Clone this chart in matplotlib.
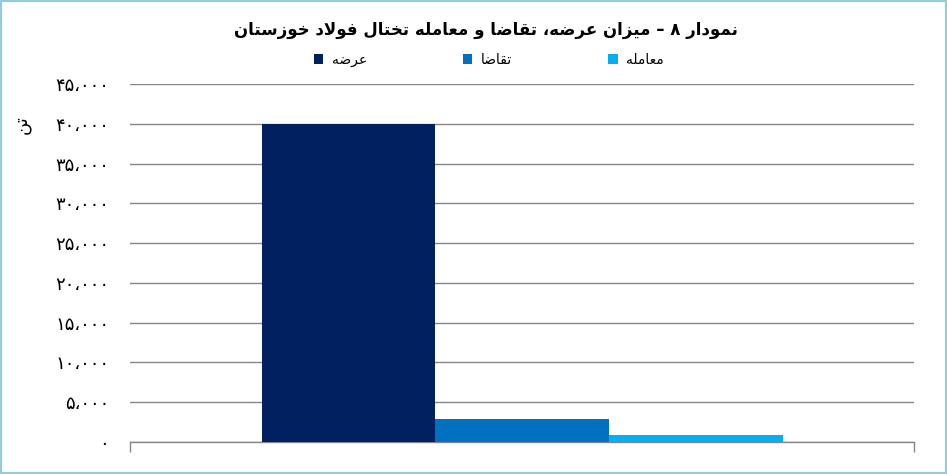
import re

import matplotlib
matplotlib.use("Agg")
from matplotlib import pyplot as plt
from matplotlib.patches import Rectangle
from matplotlib.ticker import FuncFormatter, MultipleLocator

# data
TITLE = "نمودار ۸ – میزان عرضه، تقاضا و معامله تختال فولاد خوزستان"
Y_LABEL = "تن"
SERIES = ["عرضه", "تقاضا", "معامله"]
VALUES = [40000, 2900, 900]
COLORS = ["#002060", "#0070C0", "#00B0F0"]
Y_MAX = 45000
Y_STEP = 5000

BORDER_COLOR = "#93CDDD"
GRID_COLOR = "#868686"

# ---------------------------------------------------------------------------
# minimal Persian shaping (matplotlib does no Arabic joining / bidi)
# forms: isolated, final, initial, medial
FORMS = {
    "ا": ("\uFE8D", "\uFE8E", None, None),
    "ب": ("\uFE8F", "\uFE90", "\uFE91", "\uFE92"),
    "ت": ("\uFE95", "\uFE96", "\uFE97", "\uFE98"),
    "خ": ("\uFEA5", "\uFEA6", "\uFEA7", "\uFEA8"),
    "د": ("\uFEA9", "\uFEAA", None, None),
    "ر": ("\uFEAD", "\uFEAE", None, None),
    "ز": ("\uFEAF", "\uFEB0", None, None),
    "س": ("\uFEB1", "\uFEB2", "\uFEB3", "\uFEB4"),
    "ض": ("\uFEBD", "\uFEBE", "\uFEBF", "\uFEC0"),
    "ع": ("\uFEC9", "\uFECA", "\uFECB", "\uFECC"),
    "ف": ("\uFED1", "\uFED2", "\uFED3", "\uFED4"),
    "ق": ("\uFED5", "\uFED6", "\uFED7", "\uFED8"),
    "ل": ("\uFEDD", "\uFEDE", "\uFEDF", "\uFEE0"),
    "م": ("\uFEE1", "\uFEE2", "\uFEE3", "\uFEE4"),
    "ن": ("\uFEE5", "\uFEE6", "\uFEE7", "\uFEE8"),
    "ه": ("\uFEE9", "\uFEEA", "\uFEEB", "\uFEEC"),
    "و": ("\uFEED", "\uFEEE", None, None),
    "ی": ("\uFBFC", "\uFBFD", "\uFBFE", "\uFBFF"),
    "\uFEFB": ("\uFEFB", "\uFEFC", None, None),  # lam-alef
}
FA_DIGITS = str.maketrans("0123456789", "۰۱۲۳۴۵۶۷۸۹")


def joins_left(ch):
    f = FORMS.get(ch)
    return f is not None and f[2] is not None


def fa(text):
    """Shape Persian text and return it in visual (left to right) order."""
    text = text.replace("لا", "\uFEFB")
    out = []
    for i, ch in enumerate(text):
        if ch not in FORMS:
            out.append(ch)
            continue
        prev_joins = i > 0 and joins_left(text[i - 1])
        next_joins = (i + 1 < len(text) and text[i + 1] in FORMS
                      and joins_left(ch))
        iso, fin, ini, med = FORMS[ch]
        if prev_joins and next_joins:
            out.append(med)
        elif prev_joins:
            out.append(fin)
        elif next_joins:
            out.append(ini)
        else:
            out.append(iso)
    visual = "".join(out)[::-1]
    # keep digit runs left to right
    return re.sub("[۰-۹0-9،,]+", lambda m: m.group(0)[::-1], visual)


def fa_number(v, _pos=None):
    return f"{int(round(v)):,}".replace(",", "،").translate(FA_DIGITS)


# ---------------------------------------------------------------------------
plt.rcParams["font.family"] = ["DejaVu Sans"]

fig = plt.figure(figsize=(9.47, 4.74), dpi=100)
ax = fig.add_axes([0.1373, 0.0675, 0.828, 0.7553])

group_width = 0.6645
bar_width = group_width / len(SERIES)
for i, (name, value, color) in enumerate(zip(SERIES, VALUES, COLORS)):
    offset = (i - (len(SERIES) - 1) / 2) * bar_width
    ax.bar(offset, value, width=bar_width, color=color, label=fa(name),
           zorder=3)

ax.set_xlim(-0.5, 0.5)
ax.set_ylim(0, Y_MAX)
ax.yaxis.set_major_locator(MultipleLocator(Y_STEP))
ax.yaxis.set_major_formatter(FuncFormatter(fa_number))
ax.grid(axis="y", color=GRID_COLOR, linewidth=1.0, zorder=0)
ax.set_axisbelow(True)

for side in ("left", "right", "top"):
    ax.spines[side].set_visible(False)
ax.spines["bottom"].set_color(GRID_COLOR)
ax.spines["bottom"].set_linewidth(1.0)

ax.set_xticks([-0.5, 0.5])
ax.set_xticklabels([])
ax.tick_params(axis="x", length=7, width=1.0, color=GRID_COLOR)
ax.tick_params(axis="y", length=0, pad=15, labelsize=13, labelcolor="black")

fig.text(0.513, 1 - 30 / 474, fa(TITLE), ha="center", va="center",
         fontsize=12, fontweight="bold")
fig.text(0.023, 1 - 125 / 474, fa(Y_LABEL), ha="center", va="center",
         rotation=90, fontsize=13)

fig.legend(loc="center", bbox_to_anchor=(0.516, 1 - 60 / 474), ncol=3,
           frameon=False, fontsize=10, handlelength=0.7, handleheight=0.7,
           handletextpad=0.6, columnspacing=6.9)

fig.add_artist(Rectangle((0, 0), 1, 1, transform=fig.transFigure,
                         fill=False, edgecolor=BORDER_COLOR, linewidth=3))

fig.savefig("out.png", dpi=100)
